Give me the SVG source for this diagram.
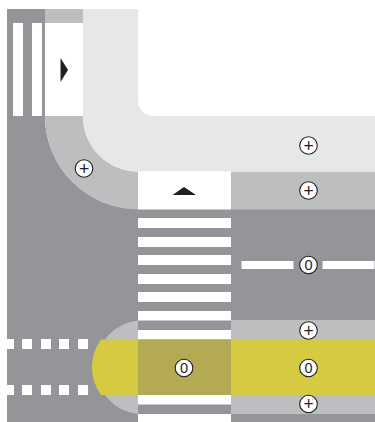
<svg xmlns="http://www.w3.org/2000/svg" width="375" height="422" viewBox="0 0 375 422">
<style>
.road{fill:#939598}.mid{fill:#bcbec0}.pale{fill:#e6e7e8}.w{fill:#fff}.yel{fill:#d6ca42}.kh{fill:#b5aa54}.tri{fill:#231f20}
.c{fill:#fff;stroke:#231f20;stroke-width:1.100}
.t{font-family:"Liberation Sans",Arial,sans-serif;font-size:14.500px;fill:#231f20;text-anchor:middle}
.p{font-size:17.500px}
</style>
<defs><circle id="b" r="8.800" class="c"/></defs>
<rect width="375" height="422" class="w"/>
<g id="road">
<path class="road" d="M7 9H45V116A93 93 0 0 0 138 209V422H7Z"/>
<rect class="road" x="138" y="209" width="237" height="213"/>
<rect class="w" x="13" y="23" width="10" height="93"/>
<rect class="w" x="32" y="23" width="10" height="93"/>
</g>
<g id="curb">
<rect class="mid" x="45" y="9" width="38" height="14"/>
<path class="mid" d="M45 116H83A55 55 0 0 0 138 171.500V209.500A93.500 93.500 0 0 1 45 116Z"/>
<rect class="mid" x="231" y="171.500" width="144" height="38"/>
<path class="pale" d="M83 9H138V101A15 15 0 0 0 153 116H375V171.500H138A55 55 0 0 1 83 116Z"/>
<rect class="w" x="45.500" y="23" width="37.500" height="93"/>
<rect class="w" x="138" y="171.500" width="93" height="38"/>
</g>
<g id="crossing">
<rect class="w" x="138" y="218" width="93" height="10"/>
<rect class="w" x="138" y="237" width="93" height="10"/>
<rect class="w" x="138" y="255" width="93" height="10"/>
<rect class="w" x="138" y="274" width="93" height="10"/>
<rect class="w" x="138" y="292" width="93" height="10"/>
<rect class="w" x="138" y="311" width="93" height="9.500"/>
<rect class="w" x="138" y="330" width="93" height="9.500"/>
<rect class="w" x="138" y="395" width="93" height="9.500"/>
<rect class="w" x="138" y="414" width="93" height="8"/>
</g>
<g id="refuge">
<path class="mid" d="M138 320.500A47 47 0 0 0 138 414Z"/>
<rect class="mid" x="231" y="320" width="144" height="94"/>
<path class="yel" d="M138 339.500H101A47 47 0 0 0 101 395H138Z"/>
<rect class="kh" x="138" y="339.500" width="93" height="55.500"/>
<rect class="yel" x="231" y="339.500" width="144" height="55.500"/>
</g>
<g id="dashes">
<rect class="w" x="7" y="339" width="7" height="10"/><rect class="w" x="22" y="339" width="10" height="10"/><rect class="w" x="41" y="339" width="10" height="10"/><rect class="w" x="59" y="339" width="10" height="10"/><rect class="w" x="78" y="339" width="10" height="10"/>
<rect class="w" x="7" y="385" width="7" height="10"/><rect class="w" x="22" y="385" width="10" height="10"/><rect class="w" x="41" y="385" width="10" height="10"/><rect class="w" x="59" y="385" width="10" height="10"/><rect class="w" x="78" y="385" width="10" height="10"/>
<rect class="w" x="241.500" y="261" width="52" height="8"/>
<rect class="w" x="322.500" y="261" width="52" height="8"/>
</g>
<g id="arrows">
<path class="tri" d="M60.500 58L68 70L60.500 82Z"/>
<path class="tri" d="M172.500 195L184 187L196 195Z"/>
</g>
<g id="badges">
<g id="b1"><use href="#b" x="84" y="168.500"/><text class="t p" x="84" y="174.500">+</text></g>
<g id="b2"><use href="#b" x="308.500" y="145.500"/><text class="t p" x="308.500" y="151.500">+</text></g>
<g id="b3"><use href="#b" x="308.500" y="190.500"/><text class="t p" x="308.500" y="196.500">+</text></g>
<g id="b4"><use href="#b" x="308.500" y="265"/><text class="t" x="308.500" y="270">0</text></g>
<g id="b5"><use href="#b" x="308.500" y="330.500"/><text class="t p" x="308.500" y="336.500">+</text></g>
<g id="b6"><use href="#b" x="308.500" y="368"/><text class="t" x="308.500" y="373">0</text></g>
<g id="b7"><use href="#b" x="308.500" y="404"/><text class="t p" x="308.500" y="410">+</text></g>
<g id="b8"><use href="#b" x="184" y="368"/><text class="t" x="184" y="373">0</text></g>
</g>
</svg>
